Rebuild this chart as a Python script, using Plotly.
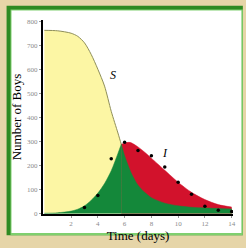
import plotly.graph_objects as go

# model curves
days = [0, 1, 2, 2.5, 3, 3.5, 4, 4.5, 5, 5.5, 5.75, 6, 6.3, 6.5, 7, 7.5, 8, 9, 10, 11, 12, 13, 14]
S = [762, 760, 750, 737, 710, 662, 600, 530, 425, 335, 288, 240, 195, 168, 118, 88, 66, 43, 32, 26, 23, 21, 19]
I = [1, 3, 10, 18, 32, 55, 85, 125, 178, 250, 288, 293, 296, 294, 277, 255, 230, 180, 130, 88, 58, 37, 27]
cross_day = 5.75

# observed data
obs_days = [3, 4, 5, 6, 7, 8, 9, 10, 11, 12, 13, 14]
obs = [25, 75, 228, 296, 262, 240, 193, 130, 80, 30, 14, 8]

x_ticks = [2, 4, 6, 8, 10, 12, 14]
y_ticks = [0, 100, 200, 300, 400, 500, 600, 700, 800]

YELLOW = "#fcf6a4"
GREEN = "#14883a"
RED = "#d2122c"
SLINE = "#8f8f5a"

left_d = [d for d in days if d <= cross_day]
left_I = [v for d, v in zip(days, I) if d <= cross_day]
right_d = [d for d in days if d >= cross_day]
right_I = [v for d, v in zip(days, I) if d >= cross_day]
right_S = [v for d, v in zip(days, S) if d >= cross_day]

fig = go.Figure()
fig.add_trace(go.Scatter(x=days, y=S, mode="lines", fill="tozeroy", fillcolor=YELLOW,
                         line=dict(color=SLINE, width=1, shape="spline", smoothing=0.8)))
fig.add_trace(go.Scatter(x=right_d, y=right_I, mode="lines", fill="tozeroy", fillcolor=RED,
                         line=dict(color=RED, width=0.5, shape="spline", smoothing=0.8)))
fig.add_trace(go.Scatter(x=left_d, y=left_I, mode="lines", fill="tozeroy", fillcolor=GREEN,
                         line=dict(color=GREEN, width=0.5, shape="spline", smoothing=0.8)))
fig.add_trace(go.Scatter(x=right_d, y=right_S, mode="lines", fill="tozeroy", fillcolor=GREEN,
                         line=dict(color=GREEN, width=0.5, shape="spline", smoothing=0.8)))
fig.add_trace(go.Scatter(x=obs_days, y=obs, mode="markers",
                         marker=dict(color="black", size=3.5)))

W, H = 246, 248
L, R, T, B = 43, 10, 20, 23
PW, PH = W - L - R, H - T - B


def px(x):
    return (x - L) / PW


def py(y):
    return (T + PH - y) / PH


shapes = [
    dict(type="rect", xref="paper", yref="paper", x0=px(6), x1=px(246), y0=py(247.5), y1=py(5),
         fillcolor="#2e8a22", line=dict(width=0), layer="below"),
    dict(type="rect", xref="paper", yref="paper", x0=px(10), x1=px(246), y0=py(247.5), y1=py(9),
         fillcolor="#7fcf6f", line=dict(width=0), layer="below"),
    dict(type="rect", xref="paper", yref="paper", x0=px(11), x1=px(244.5), y0=py(245), y1=py(10),
         fillcolor="white", line=dict(width=0), layer="below"),
]

serif = "Liberation Serif"
fig.update_layout(
    width=W, height=H,
    margin=dict(l=L, r=R, t=T, b=B),
    paper_bgcolor="#e6d5a8",
    plot_bgcolor="rgba(0,0,0,0)",
    showlegend=False,
    shapes=shapes,
    annotations=[
        dict(x=5.1, y=576, text="<i>S</i>", showarrow=False, font=dict(family=serif, size=12, color="black")),
        dict(x=9.0, y=250, text="<i>I</i>", showarrow=False, font=dict(family=serif, size=12, color="black")),
    ],
    xaxis=dict(range=[-0.1, 14.1], tickvals=x_ticks, showgrid=False, zeroline=False,
               showline=True, linecolor="black", linewidth=1.5,
               ticks="outside", ticklen=2, tickcolor="#999",
               tickfont=dict(family=serif, size=7, color="#8a8a8a"),
               title=dict(text="Time (days)", standoff=1, font=dict(family=serif, size=13, color="black"))),
    yaxis=dict(range=[-2, 805], tickvals=y_ticks, showgrid=False, zeroline=False,
               showline=True, linecolor="black", linewidth=2,
               ticks="outside", ticklen=2, tickcolor="#999",
               tickfont=dict(family=serif, size=7, color="#8a8a8a"),
               title=dict(text="Number of Boys", standoff=3, font=dict(family=serif, size=13, color="black"))),
)

fig.write_html("out.html", config={"displayModeBar": False},
               post_script="document.body.style.margin='0px';document.body.style.overflow='hidden';")
